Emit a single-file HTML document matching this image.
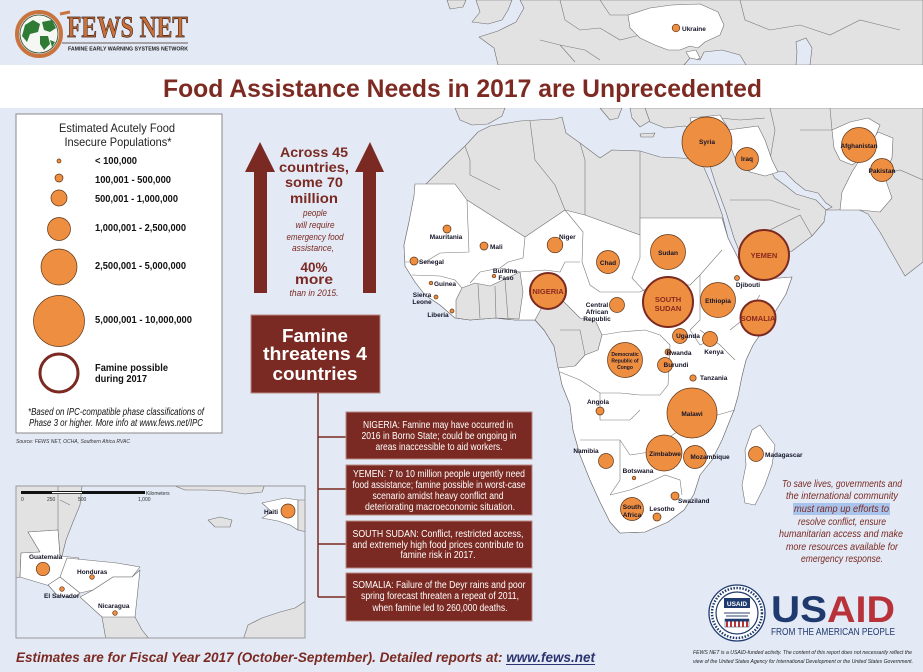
<!DOCTYPE html>
<html><head><meta charset="utf-8"><style>
html,body{margin:0;padding:0;background:#e3e9f5;width:923px;height:672px;overflow:hidden}
svg{display:block}
text{font-family:"Liberation Sans",sans-serif}
.l{font-weight:bold;font-size:6.5px;fill:#141428}
.f{fill:#ee8e40;stroke:#5c3418;stroke-width:.7}
.r{fill:#ee8e40;stroke:#7b2a22;stroke-width:2}
.g{fill:#e2e2e2;stroke:#6e6e6e;stroke-width:.6;stroke-linejoin:round}
.w{fill:#fff;stroke:#6e6e6e;stroke-width:.6;stroke-linejoin:round}
.b{fill:none;stroke:#7a7a7a;stroke-width:.6}
.sea{fill:#e3e9f5;stroke:#6e6e6e;stroke-width:.6}
.bx{fill:#7a2a22;stroke:#b98a84;stroke-width:1}
.bt{fill:#fff;font-size:10px;text-anchor:middle}
.rt{fill:#7a2a22;font-style:italic;font-size:10.5px;text-anchor:middle}
.at{fill:#7a2a22;font-weight:bold;text-anchor:middle;font-size:14px}
.ai{fill:#7a2a22;font-style:italic;font-size:9px;text-anchor:middle}
.lg{font-weight:bold;font-size:10px;fill:#111}
.rl{font-weight:bold;font-size:7.5px;fill:#8a2a20;text-anchor:middle}
.m{text-anchor:middle}
</style></head><body>
<svg width="923" height="672" viewBox="0 0 923 672" xmlns="http://www.w3.org/2000/svg">
<rect x="0" y="0" width="923" height="672" fill="#e3e9f5"/>

<!-- Europe top -->
<path class="g" d="M520,0 L923,0 L923,65 L498,65 L494,48 L479,37 L498,31 L516,22 L524,8 Z"/>
<path class="g" d="M476,0 L512,0 L508,10 L502,20 L488,24 L472,22 L480,12 Z"/>
<path class="g" d="M447,0 L466,0 L463,7 L450,9 Z"/>
<path class="b" d="M560,0 L565,20 L580,30 L600,28 L620,40 L640,35 M540,40 L560,45 L585,50 L600,60 M600,0 L610,15 L628,15 M740,0 L745,20 L770,30 L800,25 L830,35 L860,20 L900,30 M560,45 L575,62"/>
<path class="w" d="M628,15 L650,8 L672,5 L700,4 L718,12 L724,25 L720,35 L705,42 L698,48 L690,46 L680,50 L668,50 L655,45 L640,38 L630,28 Z"/>
<path class="w" d="M686,52 L696,50 L700,58 L692,62 Z"/>
<path class="sea" d="M684,65 L690,58 L700,60 L704,52 L722,50 L740,55 L746,65 Z"/>
<path class="sea" d="M796,65 L797,52 L796,42 L806,38 L812,48 L810,65 Z"/>

<!-- Spain / Italy / Greece below band -->
<path class="g" d="M455,108 L505,108 L502,116 L488,124 L472,125 L460,120 Z"/>
<path class="g" d="M600,108 L622,108 L618,118 L610,120 Z"/>
<path class="g" d="M630,108 L660,108 L655,118 L640,127 L632,118 Z"/>
<path class="g" d="M640,134 L655,133 L653,137 L641,137 Z"/>

<!-- Africa -->
<path class="g" d="M478,132 L490,126 L520,121 L555,119 L562,117 L566,133 L580,143 L600,158 L612,150 L640,151 L660,157 L700,159 L705,170 L712,186 L722,214 L728,238 L738,258 L745,272 L756,280 L792,277 L786,294 L770,320 L753,345 L746,360 L742,376 L738,396 L734,410 L722,440 L712,460 L700,475 L694,494 L684,510 L668,522 L645,532 L620,533 L610,522 L600,502 L590,480 L580,455 L573,430 L570,405 L562,385 L558,366 L554,346 L544,330 L535,320 L515,320 L495,318 L470,320 L455,318 L440,305 L425,295 L415,282 L405,266 L404,245 L409,222 L414,196 L432,178 L450,160 L465,146 Z"/>
<path class="b" d="M465,146 L470,160 L470,175 L500,190 M530,121 L535,160 L555,185 L565,210 M585,215 L585,160 L580,143 M640,151 L640,218"/>
<path class="w" d="M409,222 L414,196 L415,184 L455,184 L467,200 L525,237 L565,210 L585,215 L640,235 L640,218 L722,218 L728,238 L738,258 L745,272 L756,280 L792,277 L786,294 L770,320 L753,345 L746,360 L742,376 L738,396 L734,410 L722,440 L712,460 L700,475 L694,494 L684,510 L668,522 L645,532 L620,533 L610,522 L600,502 L590,480 L580,455 L573,430 L570,405 L562,385 L558,366 L554,346 L544,330 L535,320 L515,320 L495,318 L470,320 L455,318 L440,305 L425,295 L415,282 L405,266 L404,245 Z"/>
<path class="g" d="M456,300 L462,288 L475,283 L490,286 L505,279 L520,272 L523,292 L519,319 L495,318 L470,320 L456,318 Z"/>
<path class="b" d="M478,284 L480,319 M495,286 L496,318 M505,280 L508,318"/>
<path class="g" d="M535,320 L546,300 L552,282 L558,286 L562,300 L580,318 L596,322 L602,335 L598,350 L585,355 L575,366 L558,368 L554,346 L544,330 Z"/>
<path class="b" d="M560,330 L580,330 L585,355"/>
<path class="w" d="M752,430 L760,425 L768,436 L775,445 L772,465 L765,485 L755,505 L745,503 L742,485 L746,465 L745,450 Z"/>
<!-- Africa internal borders -->
<path class="b" d="M467,200 L469,252 L440,253 L425,262 M405,262 L425,262 M412,275 L440,276 L455,280 L462,288 M525,237 L523,258 L508,262 L500,268 M470,283 L480,272 L500,268 L520,272 M520,272 L545,270 L560,272 L565,262 L580,262 M565,210 L583,232 L582,262 M640,235 L640,258 L632,278 L645,292 M582,262 L590,285 L600,292 L640,292 M640,292 L660,282 L690,285 L700,275 L722,250 M700,275 L700,320 L690,330 M730,330 L745,318 L760,295 M602,335 L620,332 L645,330 L660,335 L670,345 M670,345 L668,385 L660,395 L640,395 L620,393 L600,393 L580,380 L560,372 M600,393 L600,420 L630,420 L640,410 M580,440 L605,440 L620,440 L630,455 M620,440 L620,480 L610,495 M630,455 L650,452 L665,440 L680,430 L700,420 L735,410 M610,495 L630,490 L650,482 L665,475 L680,480 L682,495 M700,330 L720,345 L735,360 M690,330 L700,345 L712,340"/>

<!-- Asia -->
<path class="g" d="M645,108 L923,108 L923,262 L905,276 L893,255 L880,232 L868,214 L855,208 L838,210 L826,210 L824,222 L812,236 L792,251 L762,262 L742,258 L734,238 L726,212 L716,185 L710,166 L705,150 L701,130 L685,126 L665,128 L650,122 Z"/>
<path class="b" d="M770,108 L775,130 L770,160 M760,262 L770,230 L800,215 L812,236 M730,200 L770,200 L800,210 M880,175 L900,170 L923,180 M720,118 L740,120 L765,118 M830,108 L832,130 M800,130 L832,130"/>
<path class="sea" d="M770,170 L785,172 L795,182 L805,190 L818,193 L826,203 L832,207 L826,210 L816,200 L806,197 L796,194 L786,186 L775,178 Z"/>
<path class="w" d="M690,118 L720,115 L728,128 L730,148 L715,155 L700,150 L695,135 Z"/>
<path class="w" d="M728,130 L758,126 L765,140 L772,160 L778,172 L765,176 L750,172 L735,158 L730,145 Z"/>
<path class="w" d="M832,130 L850,122 L868,118 L880,125 L874,140 L866,155 L852,165 L840,160 L834,148 Z"/>
<path class="w" d="M866,150 L878,132 L893,138 L892,158 L884,175 L892,198 L880,212 L860,210 L840,210 L842,192 L852,172 Z"/>

<!-- circles -->
<circle class="f" cx="676" cy="28" r="3.8"/>
<circle class="f" cx="707" cy="142" r="25"/>
<circle class="f" cx="747" cy="159" r="11.5"/>
<circle class="f" cx="859" cy="145" r="17.5"/>
<circle class="f" cx="882" cy="170" r="11.5"/>
<circle class="f" cx="668" cy="252" r="17.5"/>
<circle class="f" cx="608" cy="262" r="11.5"/>
<circle class="f" cx="718" cy="300" r="17.5"/>
<circle class="f" cx="737" cy="278" r="2.5"/>
<circle class="f" cx="555" cy="245" r="7.8"/>
<circle class="f" cx="484" cy="246" r="4"/>
<circle class="f" cx="447" cy="229" r="4"/>
<circle class="f" cx="414" cy="261" r="4"/>
<circle class="f" cx="494" cy="276" r="1.8"/>
<circle class="f" cx="431" cy="283" r="1.8"/>
<circle class="f" cx="436" cy="297" r="2"/>
<circle class="f" cx="452" cy="311" r="2"/>
<circle class="f" cx="617" cy="305" r="7.5"/>
<circle class="f" cx="680" cy="336" r="7.5"/>
<circle class="f" cx="710" cy="339" r="7.5"/>
<circle class="f" cx="668" cy="352" r="3"/>
<circle class="f" cx="665" cy="365" r="7.5"/>
<circle class="f" cx="693" cy="378" r="3.2"/>
<circle class="f" cx="625" cy="360" r="17.5"/>
<circle class="f" cx="600" cy="411" r="4"/>
<circle class="f" cx="692" cy="413" r="25"/>
<circle class="f" cx="664" cy="453" r="18"/>
<circle class="f" cx="695" cy="457" r="11.5"/>
<circle class="f" cx="756" cy="454" r="7.5"/>
<circle class="f" cx="606" cy="461" r="7.5"/>
<circle class="f" cx="634" cy="478" r="1.8"/>
<circle class="f" cx="675" cy="496" r="4"/>
<circle class="f" cx="632" cy="509" r="11.5"/>
<circle class="f" cx="657" cy="517" r="4"/>
<circle class="r" cx="764" cy="255" r="25"/>
<circle class="r" cx="668" cy="302" r="25"/>
<circle class="r" cx="758" cy="318" r="17.5"/>
<circle class="r" cx="548" cy="291" r="18"/>

<!-- map labels -->
<text class="l" x="682" y="31">Ukraine</text>
<text class="l m" x="707" y="144">Syria</text>
<text class="l m" x="747" y="161">Iraq</text>
<text class="l m" x="859" y="148" textLength="37" lengthAdjust="spacingAndGlyphs">Afghanistan</text>
<text class="l m" x="882" y="173" textLength="27" lengthAdjust="spacingAndGlyphs">Pakistan</text>
<text class="l m" x="748" y="287">Djibouti</text>
<text class="l m" x="668" y="255">Sudan</text>
<text class="l m" x="608" y="265">Chad</text>
<text class="l m" x="718" y="303">Ethiopia</text>
<text class="l" x="559" y="239">Niger</text>
<text class="l" x="490" y="249">Mali</text>
<text class="l m" x="446" y="239">Mauritania</text>
<text class="l" x="419" y="264">Senegal</text>
<text class="l m" x="505" y="273">Burkina</text>
<text class="l m" x="506" y="280">Faso</text>
<text class="l" x="434" y="286">Guinea</text>
<text class="l m" x="422" y="297">Sierra</text>
<text class="l m" x="422" y="304">Leone</text>
<text class="l m" x="438" y="317">Liberia</text>
<text class="l m" x="597" y="307">Central</text>
<text class="l m" x="597" y="314">African</text>
<text class="l m" x="597" y="321">Republic</text>
<text class="l m" x="688" y="338">Uganda</text>
<text class="l m" x="714" y="354">Kenya</text>
<text class="l m" x="679" y="355">Rwanda</text>
<text class="l m" x="676" y="367">Burundi</text>
<text class="l" x="700" y="380">Tanzania</text>
<text class="l m" x="625" y="356" style="font-size:5px">Democratic</text>
<text class="l m" x="625" y="362.5" style="font-size:5px">Republic of</text>
<text class="l m" x="625" y="369" style="font-size:5px">Congo</text>
<text class="l m" x="598" y="404">Angola</text>
<text class="l m" x="692" y="416">Malawi</text>
<text class="l m" x="586" y="453">Namibia</text>
<text class="l m" x="665" y="456">Zimbabwe</text>
<text class="l m" x="710" y="459">Mozambique</text>
<text class="l" x="765" y="457">Madagascar</text>
<text class="l m" x="638" y="473">Botswana</text>
<text class="l" x="678" y="503">Swaziland</text>
<text class="l m" x="632" y="509">South</text>
<text class="l m" x="632" y="517">Africa</text>
<text class="l m" x="662" y="511">Lesotho</text>
<text class="rl" x="548" y="294">NIGERIA</text>
<text class="rl" x="668" y="302">SOUTH</text>
<text class="rl" x="668" y="311">SUDAN</text>
<text class="rl" x="764" y="258">YEMEN</text>
<text class="rl" x="758" y="321">SOMALIA</text>

<!-- title band -->
<rect x="0" y="65" width="923" height="43" fill="#fff"/>
<text x="163" y="97" font-size="25" font-weight="bold" fill="#7d2a22" textLength="599" lengthAdjust="spacingAndGlyphs">Food Assistance Needs in 2017 are Unprecedented</text>

<!-- logo -->
<circle cx="39" cy="34" r="22" fill="none" stroke="#c9743f" stroke-width="4"/>
<circle cx="39" cy="34" r="19" fill="#f4f7f2" stroke="#2d4a2d" stroke-width=".8"/>
<path d="M25,25 L33,20 L40,24 L38,32 L30,34 L27,42 L22,36 Z" fill="#2f7a35"/>
<path d="M42,22 L52,20 L56,28 L50,32 L44,30 Z" fill="#2f7a35"/>
<path d="M40,36 L48,36 L50,44 L44,50 L40,44 Z" fill="#2f7a35"/>
<path d="M50,40 L55,42 L52,47 Z" fill="#2f7a35"/>
<path d="M60,14 L70,12" stroke="#c9743f" stroke-width="3"/>
<text x="67" y="37" font-size="31" font-weight="bold" fill="#c7703d" stroke="#3b1c0c" stroke-width=".7" textLength="121" lengthAdjust="spacingAndGlyphs" style="font-family:'Liberation Serif',serif">FEWS NET</text>
<line x1="62" y1="43" x2="188" y2="43" stroke="#3b2a20" stroke-width=".8"/>
<text x="68" y="50.5" font-size="5.8" font-weight="bold" fill="#222" textLength="120" lengthAdjust="spacingAndGlyphs">FAMINE EARLY WARNING SYSTEMS NETWORK</text>

<!-- legend -->
<rect x="16" y="114" width="206" height="319" fill="#fff" stroke="#8a8a8a" stroke-width="1"/>
<text class="m" x="117" y="132" font-size="12" fill="#222" textLength="116" lengthAdjust="spacingAndGlyphs">Estimated Acutely Food</text>
<text class="m" x="118" y="146" font-size="12" fill="#222" textLength="107" lengthAdjust="spacingAndGlyphs">Insecure Populations*</text>
<circle class="f" cx="59" cy="161" r="2"/>
<circle class="f" cx="59" cy="178" r="4"/>
<circle class="f" cx="59" cy="198" r="8"/>
<circle class="f" cx="59" cy="229" r="11.5"/>
<circle class="f" cx="59" cy="267" r="18"/>
<circle class="f" cx="59" cy="321" r="25.5"/>
<circle cx="59" cy="373" r="19" fill="#fff" stroke="#7b2a22" stroke-width="3"/>
<text class="lg" x="95" y="164" textLength="42" lengthAdjust="spacingAndGlyphs">&lt; 100,000</text>
<text class="lg" x="95" y="183" textLength="76" lengthAdjust="spacingAndGlyphs">100,001 - 500,000</text>
<text class="lg" x="95" y="202" textLength="83" lengthAdjust="spacingAndGlyphs">500,001 - 1,000,000</text>
<text class="lg" x="95" y="231" textLength="91" lengthAdjust="spacingAndGlyphs">1,000,001 - 2,500,000</text>
<text class="lg" x="95" y="269" textLength="91" lengthAdjust="spacingAndGlyphs">2,500,001 - 5,000,000</text>
<text class="lg" x="95" y="323" textLength="97" lengthAdjust="spacingAndGlyphs">5,000,001 - 10,000,000</text>
<text class="lg" x="95" y="371" textLength="73" lengthAdjust="spacingAndGlyphs">Famine possible</text>
<text class="lg" x="95" y="382" textLength="52" lengthAdjust="spacingAndGlyphs">during 2017</text>
<text x="28" y="415" font-size="10" font-style="italic" fill="#111" textLength="176" lengthAdjust="spacingAndGlyphs">*Based on IPC-compatible phase classifications of</text>
<text x="29" y="426" font-size="10" font-style="italic" fill="#111" textLength="174" lengthAdjust="spacingAndGlyphs">Phase 3 or higher. More info at www.fews.net/IPC</text>
<text x="16" y="443" font-size="5.5" font-style="italic" fill="#333" textLength="114" lengthAdjust="spacingAndGlyphs">Source: FEWS NET, OCHA, Southern Africa RVAC</text>

<!-- arrows -->
<path d="M245,172 L260,142 L275,172 L267,172 L267,293 L254,293 L254,172 Z" fill="#7a2a22"/>
<path d="M355,172 L370,142 L384,172 L376,172 L376,293 L363,293 L363,172 Z" fill="#7a2a22"/>
<text class="at" x="314" y="157" textLength="68" lengthAdjust="spacingAndGlyphs">Across 45</text>
<text class="at" x="314" y="172" textLength="70" lengthAdjust="spacingAndGlyphs">countries,</text>
<text class="at" x="314" y="187" textLength="58" lengthAdjust="spacingAndGlyphs">some 70</text>
<text class="at" x="314" y="203" textLength="48" lengthAdjust="spacingAndGlyphs">million</text>
<text class="ai" x="315" y="216" textLength="24" lengthAdjust="spacingAndGlyphs">people</text>
<text class="ai" x="315" y="228" textLength="39" lengthAdjust="spacingAndGlyphs">will require</text>
<text class="ai" x="315" y="240" textLength="57" lengthAdjust="spacingAndGlyphs">emergency food</text>
<text class="ai" x="313" y="251" textLength="42" lengthAdjust="spacingAndGlyphs">assistance,</text>
<text class="at" x="314" y="272" font-size="15" textLength="27" lengthAdjust="spacingAndGlyphs">40%</text>
<text class="at" x="314" y="284" font-size="15" textLength="38" lengthAdjust="spacingAndGlyphs">more</text>
<text class="ai" x="314" y="296" textLength="49" lengthAdjust="spacingAndGlyphs">than in 2015.</text>

<!-- famine box -->
<rect class="bx" x="251" y="315" width="129" height="78"/>
<text x="315" y="342" fill="#fff" font-weight="bold" font-size="18" text-anchor="middle" textLength="66" lengthAdjust="spacingAndGlyphs">Famine</text>
<text x="315" y="360" fill="#fff" font-weight="bold" font-size="18" text-anchor="middle" textLength="104" lengthAdjust="spacingAndGlyphs">threatens 4</text>
<text x="315" y="380" fill="#fff" font-weight="bold" font-size="18" text-anchor="middle" textLength="85" lengthAdjust="spacingAndGlyphs">countries</text>
<path d="M318,393 L318,597 M318,437 L346,437 M318,489 L346,489 M318,544 L346,544 M318,597 L346,597" stroke="#7a2a22" stroke-width="1.5" fill="none"/>

<rect class="bx" x="346" y="412" width="186" height="47"/>
<text class="bt" x="438" y="428" textLength="150" lengthAdjust="spacingAndGlyphs">NIGERIA: Famine may have occurred in</text>
<text class="bt" x="439" y="439" textLength="155" lengthAdjust="spacingAndGlyphs">2016 in Borno State; could be ongoing in</text>
<text class="bt" x="439" y="450" textLength="127" lengthAdjust="spacingAndGlyphs">areas inaccessible to aid workers.</text>

<rect class="bx" x="346" y="465" width="186" height="50"/>
<text class="bt" x="439" y="477" textLength="172" lengthAdjust="spacingAndGlyphs">YEMEN: 7 to 10 million people urgently need</text>
<text class="bt" x="439" y="488" textLength="173" lengthAdjust="spacingAndGlyphs">food assistance; famine possible in worst-case</text>
<text class="bt" x="438" y="499" textLength="131" lengthAdjust="spacingAndGlyphs">scenario amidst heavy conflict and</text>
<text class="bt" x="440" y="510" textLength="150" lengthAdjust="spacingAndGlyphs">deteriorating macroeconomic situation.</text>

<rect class="bx" x="346" y="521" width="186" height="47"/>
<text class="bt" x="438" y="537" textLength="171" lengthAdjust="spacingAndGlyphs">SOUTH SUDAN:  Conflict, restricted access,</text>
<text class="bt" x="438" y="548" textLength="171" lengthAdjust="spacingAndGlyphs">and extremely high food prices contribute to</text>
<text class="bt" x="438" y="558" textLength="75" lengthAdjust="spacingAndGlyphs">famine risk in 2017.</text>

<rect class="bx" x="346" y="573" width="186" height="48"/>
<text class="bt" x="439" y="588" textLength="173" lengthAdjust="spacingAndGlyphs">SOMALIA: Failure of the Deyr rains and poor</text>
<text class="bt" x="440" y="599" textLength="158" lengthAdjust="spacingAndGlyphs">spring forecast threaten a repeat of 2011,</text>
<text class="bt" x="440" y="611" textLength="135" lengthAdjust="spacingAndGlyphs">when famine led to 260,000 deaths.</text>

<!-- inset map -->
<clipPath id="ic"><rect x="16" y="486" width="289" height="152"/></clipPath>
<g clip-path="url(#ic)">
<rect x="16" y="486" width="289" height="152" fill="#e3e9f5"/>
<path class="g" d="M16,486 L82,486 L80,505 L73,522 L66,540 L62,556 L60,556 L58,530 L28,532 L40,552 L21,553 L20,577 L16,578 Z"/>
<path class="b" d="M58,486 L58,530 M60,500 L70,505"/>
<path class="w" d="M28,532 L58,530 L60,556 L79,558 L61,577 L50,586 L20,577 L21,553 L40,552 Z"/>
<path class="w" d="M67,558 L117,563 L140,567 L132,577 L113,577 L93,590 L80,593 L60,577 Z"/>
<path class="w" d="M48,585 L60,577 L80,593 L73,598 L57,595 Z"/>
<path class="w" d="M80,597 L93,590 L113,577 L132,577 L140,570 L135,617 L110,623 L102,617 Z"/>
<path class="g" d="M102,617 L135,617 L142,630 L150,640 L106,640 Z"/>
<path class="g" d="M243,640 L248,625 L262,618 L280,612 L295,608 L307,600 L307,640 Z"/>
<path class="g" d="M170,484 L265,484 L262,492 L245,494 L225,491 L205,490 L185,490 Z"/>
<path class="g" d="M208,520 L220,517 L232,520 L230,527 L215,527 Z"/>
<path class="w" d="M262,503 L285,498 L298,500 L298,530 L290,525 L278,521 L262,518 L272,512 Z"/>
<path class="g" d="M298,500 L307,500 L307,532 L298,530 Z"/>
<rect x="21" y="491" width="124" height="3" fill="#111"/>
<rect x="52" y="492" width="30" height="1.2" fill="#fff"/>
<text x="21" y="501" font-size="5" fill="#333">0</text>
<text x="47" y="501" font-size="5" fill="#333">250</text>
<text x="78" y="501" font-size="5" fill="#333">500</text>
<text x="138" y="501" font-size="5" fill="#333">1,000</text>
<text x="146" y="495" font-size="5" fill="#333">Kilometers</text>
<circle class="f" cx="288" cy="511" r="7"/>
<circle class="f" cx="43" cy="569" r="6.7"/>
<circle class="f" cx="92" cy="577" r="2.3"/>
<circle class="f" cx="62" cy="589" r="2.3"/>
<circle class="f" cx="115" cy="613" r="2.3"/>
<text class="l" x="264" y="514">Haiti</text>
<text class="l" x="29" y="559">Guatemala</text>
<text class="l" x="77" y="574">Honduras</text>
<text class="l" x="44" y="598">El Salvador</text>
<text class="l" x="98" y="608">Nicaragua</text>
</g>
<rect x="16" y="486" width="289" height="152" fill="none" stroke="#999" stroke-width="1"/>

<!-- right paragraph -->
<rect x="793" y="503" width="97" height="12" fill="#a9c4ec"/>
<text class="rt" x="842" y="487" textLength="120" lengthAdjust="spacingAndGlyphs">To save lives, governments and</text>
<text class="rt" x="842" y="499" textLength="112" lengthAdjust="spacingAndGlyphs">the international community</text>
<text class="rt" x="841.5" y="512" textLength="95" lengthAdjust="spacingAndGlyphs">must ramp up efforts to</text>
<text class="rt" x="842" y="525" textLength="88" lengthAdjust="spacingAndGlyphs">resolve conflict, ensure</text>
<text class="rt" x="841" y="537" textLength="124" lengthAdjust="spacingAndGlyphs">humanitarian access and make</text>
<text class="rt" x="842" y="550" textLength="112" lengthAdjust="spacingAndGlyphs">more resources available for</text>
<text class="rt" x="842" y="562" textLength="82" lengthAdjust="spacingAndGlyphs">emergency response.</text>

<!-- USAID -->
<circle cx="737" cy="613" r="28" fill="#fff" stroke="#1f3a6e" stroke-width="1.3"/>
<circle cx="737" cy="613" r="21" fill="#fff" stroke="#1f3a6e" stroke-width="1.2"/>
<circle cx="737" cy="613" r="25" fill="none" stroke="#1f3a6e" stroke-width="2.5" stroke-dasharray="1.5 1.5"/>
<rect x="724" y="598" width="26" height="10" fill="#1f3a6e"/>
<text x="737" y="606" font-size="6.5" font-weight="bold" fill="#fff" text-anchor="middle">USAID</text>
<path d="M724,613 L750,613 M726,616 L748,616" stroke="#5a6a8a" stroke-width="1.2"/>
<rect x="725" y="619" width="24" height="8" fill="#fff" stroke="#1f3a6e" stroke-width=".5"/>
<path d="M727,619 L727,627 M731,619 L731,627 M735,619 L735,627 M739,619 L739,627 M743,619 L743,627 M747,619 L747,627" stroke="#b8323a" stroke-width="2"/>
<rect x="725" y="619" width="24" height="2.5" fill="#1f3a6e"/>
<text x="771" y="622" font-size="37" font-weight="bold" fill="#1f3a6e" textLength="56" lengthAdjust="spacingAndGlyphs">US</text>
<text x="827" y="622" font-size="37" font-weight="bold" fill="#b8323a" textLength="68" lengthAdjust="spacingAndGlyphs">AID</text>
<text x="771" y="635" font-size="10" fill="#1f3a6e" textLength="124" lengthAdjust="spacingAndGlyphs">FROM THE AMERICAN PEOPLE</text>
<text x="693" y="654" font-size="5" font-style="italic" fill="#222" textLength="219" lengthAdjust="spacingAndGlyphs">FEWS NET is a USAID-funded activity. The content of this report does not necessarily reflect the</text>
<text x="693" y="663" font-size="5" font-style="italic" fill="#222" textLength="220" lengthAdjust="spacingAndGlyphs">view of the United States Agency for International Development or the United States Government.</text>

<!-- bottom text -->
<text x="16" y="662" font-size="14" font-weight="bold" font-style="italic" fill="#7a2a22" textLength="579" lengthAdjust="spacingAndGlyphs">Estimates are for Fiscal Year 2017 (October-September). Detailed reports at: <tspan fill="#2b3470">www.fews.net</tspan></text>
<line x1="506" y1="664.5" x2="595" y2="664.5" stroke="#2b3470" stroke-width="1"/>
</svg>
</body></html>
